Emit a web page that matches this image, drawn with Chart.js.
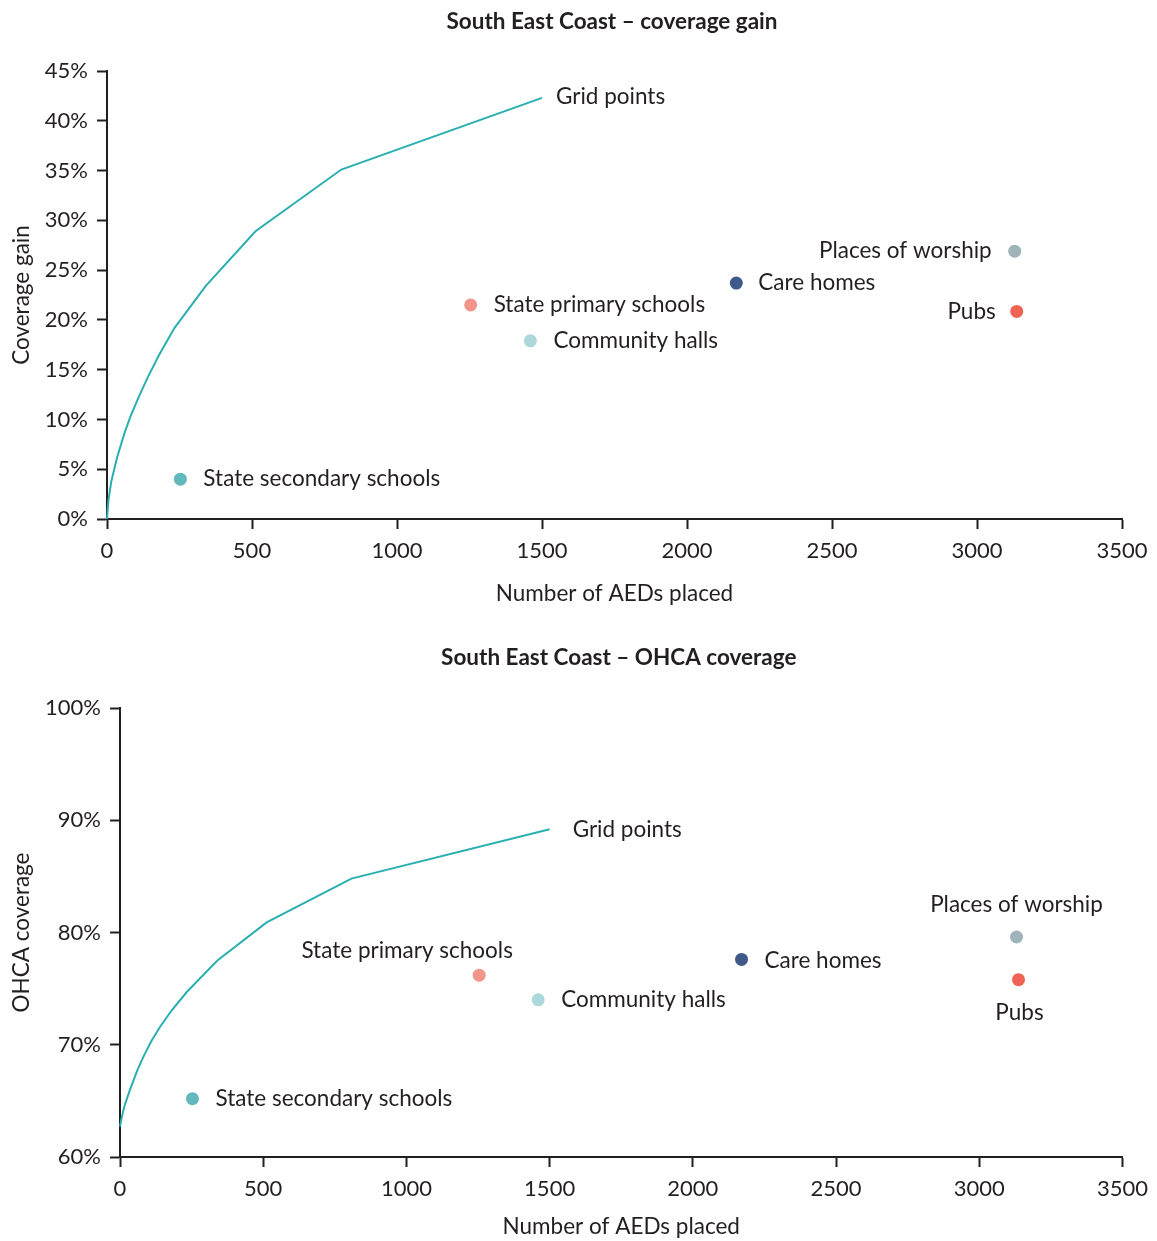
<!DOCTYPE html>
<html>
<head>
<meta charset="utf-8">
<title>South East Coast – AED placement</title>
<script src="https://cdn.jsdelivr.net/npm/chart.js@4.4.1/dist/chart.umd.min.js"></script>
<style>
  html, body { margin: 0; padding: 0; background: #ffffff; }
  canvas { display: block; }
</style>
</head>
<body>
<canvas id="gainChart" width="1157" height="630"></canvas>
<canvas id="coverageChart" width="1157" height="611"></canvas>
<script>
// Candidate site types and the number of AEDs each would place
const categories = ['State secondary schools', 'State primary schools', 'Community halls', 'Care homes', 'Places of worship', 'Pubs'];
const aedsPlaced = [253, 1254, 1460, 2170, 3130, 3137];
const coverageGain = [4.0, 21.5, 17.9, 23.7, 26.9, 20.85];   // %
const ohcaCoverage = [65.2, 76.2, 74.0, 77.6, 79.6, 75.8];    // %

// Optimised grid-point placement curve
const gridLabel = 'Grid points';
const gridAeds = [0, 5, 15, 35, 60, 81, 110, 140, 180, 233, 340, 512, 808, 1500];
const gridGain = [0, 1.9, 3.8, 6.2, 8.6, 10.3, 12.3, 14.2, 16.5, 19.2, 23.4, 28.9, 35.1, 42.3];
const gridCoverage = [62.7, 63.4, 64.5, 66.0, 67.7, 68.9, 70.35, 71.6, 73.05, 74.7, 77.5, 80.9, 84.8, 89.2];

const categoryColors = ['#63b8bc', '#f2968c', '#acd8dc', '#3f5a8a', '#9fb3ba', '#ee6352'];
const lineColor = '#2aafb0';
const inkColor = '#231f20';
const fontFamily = 'Lato, "Open Sans", sans-serif';

// Writes each series name beside its marker
const pointLabels = {
  id: 'pointLabels',
  afterDatasetsDraw(chart, args, opts) {
    const ctx = chart.ctx;
    ctx.save();
    ctx.font = opts.font;
    ctx.fillStyle = opts.color;
    ctx.textBaseline = 'middle';
    chart.data.datasets.forEach((ds, i) => {
      const place = opts.placement[ds.label];
      const meta = chart.getDatasetMeta(i);
      if (!place || !meta.data.length) return;
      const el = meta.data[meta.data.length - 1];
      ctx.textAlign = place.align;
      ctx.fillText(ds.label, el.x + place.dx, el.y + place.dy);
    });
    ctx.restore();
  }
};

// Chart heading centred over the plotting area
const areaTitle = {
  id: 'areaTitle',
  afterDraw(chart, args, opts) {
    const { ctx, chartArea } = chart;
    ctx.save();
    ctx.font = opts.font;
    ctx.fillStyle = opts.color;
    ctx.textAlign = 'center';
    ctx.textBaseline = 'middle';
    ctx.fillText(opts.text, (chartArea.left + chartArea.right) / 2 + opts.dx, opts.y);
    ctx.restore();
  }
};

function buildDatasets(gridValues, siteValues) {
  const sets = [{
    type: 'line',
    label: gridLabel,
    data: gridAeds.map((x, i) => ({ x, y: gridValues[i] })),
    borderColor: lineColor,
    borderWidth: 2,
    pointRadius: 0,
    tension: 0,
    fill: false,
    clip: false
  }];
  categories.forEach((name, i) => {
    sets.push({
      type: 'scatter',
      label: name,
      data: [{ x: aedsPlaced[i], y: siteValues[i] }],
      backgroundColor: categoryColors[i],
      borderColor: categoryColors[i],
      borderWidth: 0,
      pointRadius: 6.5,
      clip: false
    });
  });
  return sets;
}

function axisStyle() {
  return {
    border: { display: true, color: inkColor, width: 2 },
    grid: { drawOnChartArea: false, drawTicks: true, tickLength: 10, tickColor: inkColor, tickWidth: 2 },
  };
}

const tickFont = { family: fontFamily, size: 22, lineHeight: 1.2 };
const axisTitleFont = { family: fontFamily, size: 22.5, lineHeight: 1.2 };

function makeChart(canvasId, cfg) {
  return new Chart(document.getElementById(canvasId), {
    type: 'scatter',
    data: { datasets: buildDatasets(cfg.gridValues, cfg.siteValues) },
    options: {
      responsive: false,
      animation: false,
      devicePixelRatio: 1,
      layout: { padding: { top: cfg.padTop, left: 0, right: cfg.padRight, bottom: 0 } },
      plugins: {
        legend: { display: false },
        tooltip: { enabled: false },
        title: { display: false },
        areaTitle: {
          text: cfg.title,
          font: 'bold 22.5px ' + fontFamily,
          color: inkColor,
          y: cfg.titleY,
          dx: -2.5
        },
        pointLabels: {
          font: '22.5px ' + fontFamily,
          color: inkColor,
          placement: cfg.placement
        }
      },
      scales: {
        x: Object.assign(axisStyle(), {
          type: 'linear',
          min: 0, max: 3500,
          ticks: { stepSize: 500, padding: 9, color: inkColor, font: tickFont, callback: v => String(v) },
          title: { display: true, text: 'Number of AEDs placed', color: inkColor,
                   font: axisTitleFont, padding: { top: 0, bottom: cfg.xTitlePad } },
          afterFit(scale) { scale.height = cfg.xHeight; }
        }),
        y: Object.assign(axisStyle(), {
          type: 'linear',
          min: cfg.yMin, max: cfg.yMax,
          ticks: { stepSize: cfg.yStep, padding: 9, color: inkColor, font: tickFont, callback: v => v + '%' },
          title: { display: true, text: cfg.yTitle, color: inkColor,
                   font: axisTitleFont, padding: { top: 8, bottom: 0 } },
          afterFit(scale) { scale.width = cfg.yWidth; }
        })
      }
    },
    plugins: [pointLabels, areaTitle]
  });
}

makeChart('gainChart', {
  title: 'South East Coast – coverage gain',
  yTitle: 'Coverage gain',
  gridValues: gridGain,
  siteValues: coverageGain,
  yMin: 0, yMax: 45, yStep: 5,
  yWidth: 107, padRight: 35, padTop: 71,
  titleY: 22,
  xHeight: 111, xTitlePad: 22.5,
  placement: {
    'Grid points': { align: 'left', dx: 14, dy: -1 },
    'State secondary schools': { align: 'left', dx: 23, dy: 0 },
    'State primary schools': { align: 'left', dx: 23, dy: 0 },
    'Community halls': { align: 'left', dx: 23, dy: 0 },
    'Care homes': { align: 'left', dx: 22, dy: 0 },
    'Places of worship': { align: 'right', dx: -23, dy: 0 },
    'Pubs': { align: 'right', dx: -21, dy: 0 }
  }
});

makeChart('coverageChart', {
  title: 'South East Coast – OHCA coverage',
  yTitle: 'OHCA coverage',
  gridValues: gridCoverage,
  siteValues: ohcaCoverage,
  yMin: 60, yMax: 100, yStep: 10,
  yWidth: 120, padRight: 34, padTop: 78,
  titleY: 28,
  xHeight: 84, xTitlePad: 0.5,
  placement: {
    'Grid points': { align: 'left', dx: 23, dy: 1 },
    'State secondary schools': { align: 'left', dx: 23, dy: 0 },
    'State primary schools': { align: 'center', dx: -72, dy: -24 },
    'Community halls': { align: 'left', dx: 23, dy: 0 },
    'Care homes': { align: 'left', dx: 23, dy: 1 },
    'Places of worship': { align: 'center', dx: 0, dy: -32 },
    'Pubs': { align: 'center', dx: 1, dy: 33 }
  }
});
</script>
</body>
</html>
